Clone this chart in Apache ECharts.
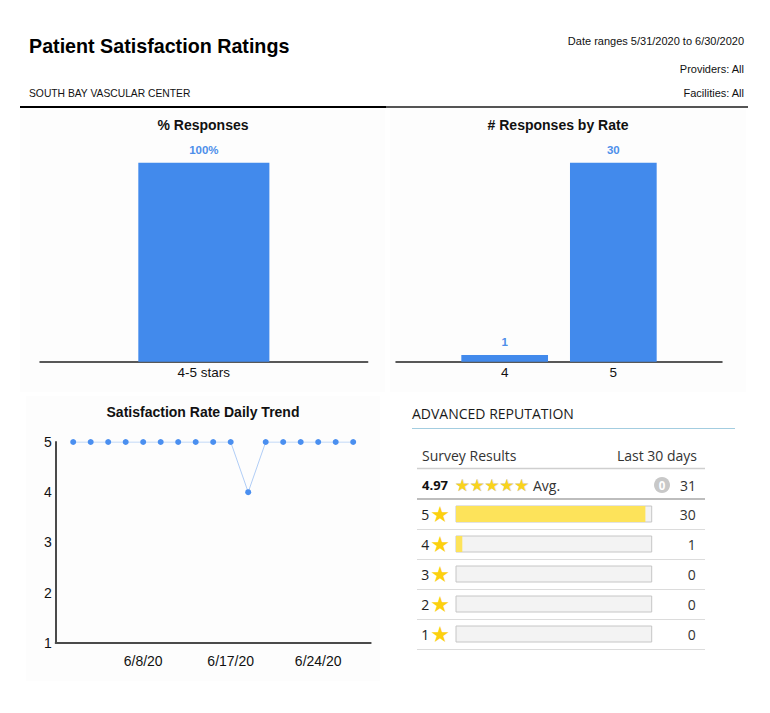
<!DOCTYPE html>
<html><head><meta charset="utf-8">
<script src="https://cdn.jsdelivr.net/npm/echarts@6/dist/echarts.min.js"></script>
<style>html,body{margin:0;padding:0;background:#fff}#c{width:770px;height:713px}</style>
</head><body><div id="c"></div>
<script>
// ---- data ----
const pctCategories = ['4-5 stars'];
const pctValues = [100];
const rateCategories = [4, 5];
const rateCounts = [1, 30];
const trendDates = ['6/1/20','6/2/20','6/3/20','6/4/20','6/8/20','6/9/20','6/10/20','6/11/20','6/15/20','6/17/20','6/18/20','6/19/20','6/22/20','6/23/20','6/24/20','6/25/20','6/26/20'];
const trendValues = [5,5,5,5,5,5,5,5,5,5,4,5,5,5,5,5,5];
const trendTickLabels = ['6/8/20','6/17/20','6/24/20'];
const starLevels = ['5','4','3','2','1'];
const starCounts = [30,1,0,0,0];
const pendingCount = 0;

const total = starCounts.reduce((a,b)=>a+b,0);
const avg = (starCounts.reduce((s,c,i)=>s+c*Number(starLevels[i]),0)/total).toFixed(2);

const SANS = 'Liberation Sans, Arial, sans-serif';
const OPEN = 'Open Sans, sans-serif';
const BLUE = '#428aec';
const LBLUE = '#4d8fea';

function txt(x,y,text,opt){
  opt = opt||{};
  return {type:'text', x:x, y:y, silent:true, z:10, style:Object.assign({
    text:text, fill:opt.fill||'#111', fontSize:opt.size||12, fontWeight:opt.weight||'normal',
    fontFamily:opt.family||SANS, textAlign:opt.align||'left', align:opt.align||'left',
    textVerticalAlign:'middle', verticalAlign:'middle'}, opt.extra||{})};
}
function hline(x1,x2,y,color,w){
  return {type:'line', silent:true, z:5, shape:{x1:x1,y1:y,x2:x2,y2:y}, style:{stroke:color, lineWidth:w}};
}
function rect(x,y,w,h,fill){
  return {type:'rect', silent:true, z:-10, shape:{x:x,y:y,width:w,height:h}, style:{fill:fill}};
}

const graphics = [
  rect(20,110,365,282,'#fdfdfd'),
  rect(390,110,356,282,'#fdfdfd'),
  rect(26,396,354,285,'#fdfdfd'),
  txt(29,46,'Patient Satisfaction Ratings',{size:19.7,weight:'bold',fill:'#000'}),
  txt(744,41,'Date ranges 5/31/2020 to 6/30/2020',{size:11,align:'right'}),
  txt(744,69,'Providers: All',{size:11,align:'right'}),
  txt(744,93,'Facilities: All',{size:11,align:'right'}),
  txt(29,93,'SOUTH BAY VASCULAR CENTER',{size:10.3}),
  hline(20,386,107,'#000',2),
  hline(386,748,107,'#555',2),
  txt(203,125,'% Responses',{size:14,weight:'bold',align:'center'}),
  txt(558,125,'# Responses by Rate',{size:14,weight:'bold',align:'center'}),
  txt(203,412,'Satisfaction Rate Daily Trend',{size:14,weight:'bold',align:'center'}),
  // reputation panel
  txt(412,413,'ADVANCED REPUTATION',{size:14,family:OPEN,fill:'#1a1a1a'}),
  hline(412,735,428.5,'#a3cde0',1),
  txt(422,455,'Survey Results',{size:14,family:OPEN,fill:'#333'}),
  txt(697,455,'Last 30 days',{size:14,family:OPEN,fill:'#333',align:'right'}),
  hline(417,705,468.5,'#cfcfcf',1.5),
  txt(422,485,avg,{size:13,family:OPEN,weight:'bold',fill:'#111'}),
  txt(455,485,'★★★★★',{size:16.5,family:'DejaVu Sans',fill:'#f9d31c',extra:{stroke:'#d5d5d5',lineWidth:0.7}}),
  txt(533,485,'Avg.',{size:14,family:OPEN,fill:'#333'}),
  {type:'circle', silent:true, z:5, shape:{cx:662,cy:485,r:8}, style:{fill:'#c8c8c8'}},
  txt(662,485,String(pendingCount),{size:11.5,family:OPEN,weight:'bold',fill:'#fff',align:'center'}),
  txt(696,485,String(total),{size:14,family:OPEN,fill:'#333',align:'right'}),
  hline(417,705,499,'#bdbdbd',2),
  hline(417,705,529.5,'#dcdcdc',1),
  hline(417,705,559.5,'#dcdcdc',1),
  hline(417,705,589.5,'#dcdcdc',1),
  hline(417,705,619.5,'#dcdcdc',1),
  hline(417,705,649.5,'#dcdcdc',1)
];

const chart = echarts.init(document.getElementById('c'), null, {renderer:'svg'});
chart.setOption({
  animation:false,
  backgroundColor:'#fff',
  graphic:{elements:graphics},
  grid:[
    {left:40, top:162.7, width:327.7, height:199},
    {left:396, top:162.7, width:326, height:199},
    {left:55.7, top:442, width:315, height:200.7},
    {left:456, top:499, width:195.7, height:150}
  ],
  xAxis:[
    {gridIndex:0, type:'category', data:pctCategories, axisTick:{show:false},
     axisLine:{lineStyle:{color:'#222',width:1.5}},
     axisLabel:{margin:4, fontSize:13.5, color:'#111', fontFamily:SANS}},
    {gridIndex:1, type:'value', min:3, max:6, interval:1, splitLine:{show:false}, axisTick:{show:false},
     axisLine:{show:true, onZero:false, lineStyle:{color:'#222',width:1.5}},
     axisLabel:{margin:4, fontSize:13.5, color:'#111', fontFamily:SANS, showMinLabel:true, showMaxLabel:true,
       formatter:v=>rateCategories.includes(v)?String(v):''}},
    {gridIndex:2, type:'value', min:-1, max:trendDates.length, interval:1, splitLine:{show:false}, axisTick:{show:false},
     axisLine:{show:true, onZero:false, lineStyle:{color:'#4a4a4a',width:2}},
     axisLabel:{margin:11, fontSize:14, color:'#111', fontFamily:SANS,
       formatter:v=>{const d=trendDates[v]; return (d && trendTickLabels.includes(d))?d:'';}}},
    {gridIndex:3, type:'value', min:0, max:total, show:false}
  ],
  yAxis:[
    {gridIndex:0, type:'value', min:0, max:'dataMax', show:false},
    {gridIndex:1, type:'value', min:0, max:'dataMax', show:false},
    {gridIndex:2, type:'value', min:1, max:5, interval:1, splitLine:{show:false}, axisTick:{show:false},
     axisLine:{show:true, onZero:false, lineStyle:{color:'#4a4a4a',width:2}},
     axisLabel:{margin:4, fontSize:14, color:'#111', fontFamily:SANS}},
    {gridIndex:3, type:'category', data:starLevels, inverse:true, axisLine:{show:false}, axisTick:{show:false},
     axisLabel:{margin:6, formatter:v=>'{n|'+v+'}{s|★}',
       rich:{n:{fontSize:14, color:'#222', fontFamily:OPEN, padding:[0,1,0,0]},
             s:{fontSize:22, color:'#fcd00f', fontFamily:'DejaVu Sans'}}}},
    {gridIndex:3, type:'category', position:'right', data:starCounts.map(String), inverse:true,
     axisLine:{show:false}, axisTick:{show:false},
     axisLabel:{margin:44, align:'right', fontSize:14, color:'#333', fontFamily:OPEN}}
  ],
  series:[
    {type:'bar', xAxisIndex:0, yAxisIndex:0, data:pctValues, barWidth:'40%',
     itemStyle:{color:BLUE},
     label:{show:true, position:'top', distance:7, formatter:p=>p.value+'%', color:LBLUE, fontWeight:'bold', fontSize:11.5, fontFamily:SANS}},
    {type:'bar', xAxisIndex:1, yAxisIndex:1, data:rateCategories.map((c,i)=>[c,rateCounts[i]]), barWidth:86.7,
     itemStyle:{color:BLUE},
     label:{show:true, position:'top', distance:7, formatter:p=>String(p.value[1]), color:LBLUE, fontWeight:'bold', fontSize:11.5, fontFamily:SANS}},
    {type:'line', xAxisIndex:2, yAxisIndex:2, data:trendValues.map((v,i)=>[i,v]),
     symbol:'circle', symbolSize:6, itemStyle:{color:'#4a8ff0'}, lineStyle:{color:'#b0cdf6', width:1}},
    {type:'bar', xAxisIndex:3, yAxisIndex:3, data:starCounts, barWidth:16,
     itemStyle:{color:'#fde35a'},
     showBackground:true, backgroundStyle:{color:'#f3f3f3', borderColor:'#c6c6c6', borderWidth:1}}
  ]
});
</script></body></html>
